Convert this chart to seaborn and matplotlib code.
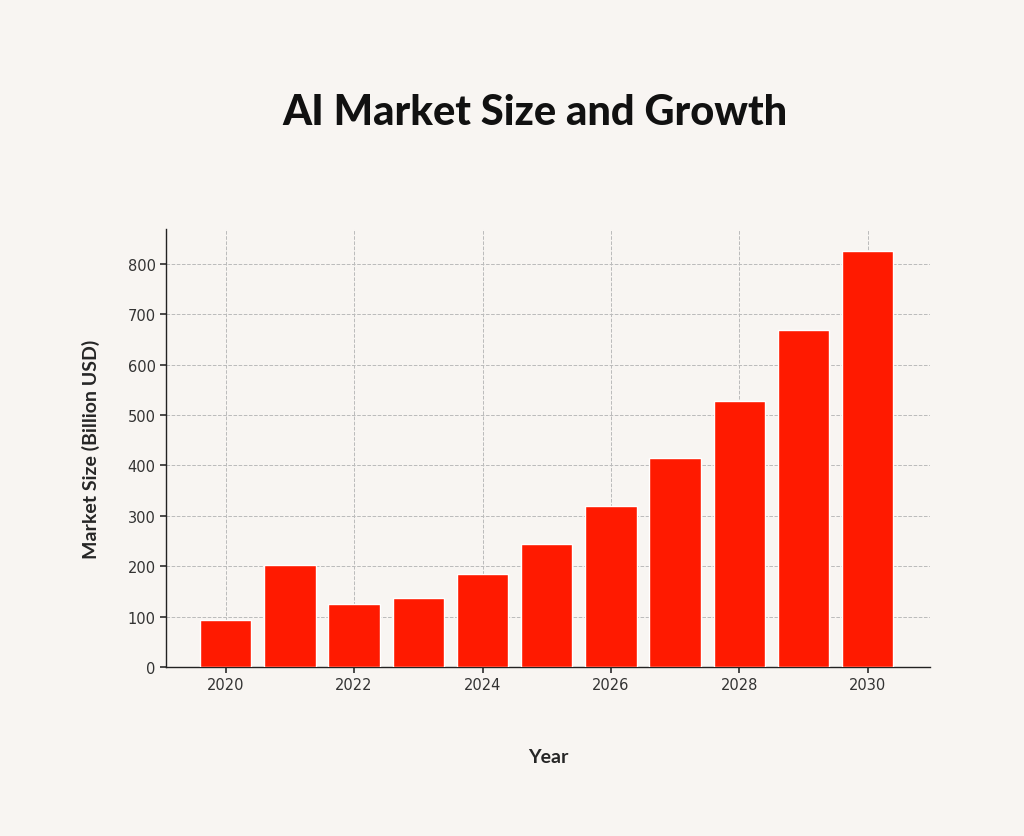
import matplotlib
matplotlib.use("Agg")
import matplotlib.pyplot as plt
import seaborn as sns
import pandas as pd

years = [2020, 2021, 2022, 2023, 2024, 2025, 2026, 2027, 2028, 2029, 2030]
market_size = [93, 202, 125, 137, 185, 244, 320, 415, 528, 669, 826]
xticks = [2020, 2022, 2024, 2026, 2028, 2030]
yticks = [0, 100, 200, 300, 400, 500, 600, 700, 800]

bg = "#f8f5f2"
sns.set_theme(style="white")
plt.rcParams["font.family"] = ["DejaVu Sans"]

fig = plt.figure(figsize=(10.24, 8.37), dpi=100, facecolor=bg)
ax = fig.add_axes([166/1024, 1-668/837, (930-166)/1024, (668-230)/837])
ax.set_facecolor(bg)

df = pd.DataFrame({"Year": years, "Size": market_size})
sns.barplot(data=df, x="Year", y="Size", native_scale=True, color="#ff1a00",
            saturation=1, width=0.8, ax=ax, zorder=3)
ax.set_xlim(2019.07, 2030.97)
ax.set_ylim(0, 869)
ax.set_xticks(xticks)
ax.set_xticklabels([str(t) for t in xticks])
ax.set_yticks(yticks)
ax.tick_params(axis="both", labelsize=10.5, colors="#333333", length=4, left=True, bottom=True)
ax.grid(True, linestyle="--", color="#bbbbbb", linewidth=0.7, zorder=0)
for s in ["top", "right"]:
    ax.spines[s].set_visible(False)
for s in ["left", "bottom"]:
    ax.spines[s].set_color("#222222")
    ax.spines[s].set_linewidth(1)

ax.set_xlabel("Year", fontsize=14, fontweight="bold", family="Lato", labelpad=40)
ax.set_ylabel("Market Size (Billion USD)", fontsize=14, fontweight="bold", family="Lato", labelpad=20)
fig.text(535/1024, 1-113/837, "AI Market Size and Growth", ha="center", va="center",
         fontsize=30, fontweight="black", family="Lato", color="#111111")

fig.savefig("out.png", dpi=100, facecolor=bg)
